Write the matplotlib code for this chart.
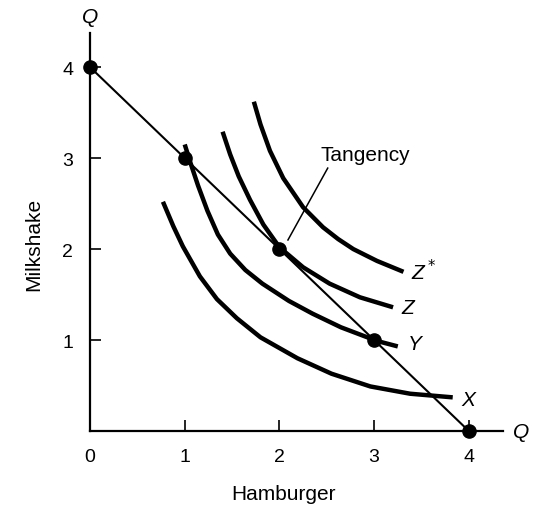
import numpy as np
import matplotlib
matplotlib.use("Agg")
import matplotlib.pyplot as plt

plt.rcParams['font.family'] = ['Liberation Sans', 'DejaVu Sans']

# budget line and the bundles marked on it
budget_x = [0, 1, 2, 3, 4]
budget_y = [4, 3, 2, 1, 0]

# indifference curves
curve_x_x = [0.77, 0.88, 0.98, 1.16, 1.34, 1.55, 1.80, 2.19, 2.55, 2.96, 3.38, 3.83]
curve_x_y = [2.52, 2.25, 2.03, 1.70, 1.45, 1.24, 1.03, 0.80, 0.63, 0.49, 0.41, 0.37]

curve_y_x = [1.00, 1.06, 1.14, 1.24, 1.35, 1.48, 1.64, 1.82, 2.10, 2.35, 2.65, 3.03, 3.25]
curve_y_y = [3.15, 2.95, 2.70, 2.42, 2.16, 1.95, 1.77, 1.62, 1.43, 1.29, 1.14, 0.99, 0.93]

curve_z_x = [1.40, 1.48, 1.57, 1.69, 1.83, 2.00, 2.25, 2.53, 2.85, 3.20]
curve_z_y = [3.29, 3.04, 2.80, 2.54, 2.27, 2.02, 1.80, 1.62, 1.47, 1.36]

curve_zs_x = [1.73, 1.80, 1.90, 2.04, 2.25, 2.46, 2.62, 2.78, 3.03, 3.31]
curve_zs_y = [3.62, 3.37, 3.08, 2.78, 2.46, 2.24, 2.11, 2.00, 1.87, 1.75]

curve_labels = ['X', 'Y', 'Z', 'Z$^*$']
label_pos = [(3.99, 0.35), (3.43, 0.96), (3.36, 1.36), (3.52, 1.76)]

ticks = [0, 1, 2, 3, 4]

fig = plt.figure(figsize=(5.33, 5.06), dpi=100)
ax = fig.add_axes([0.1689, 0.1462, 0.8173, 0.854])
ax.set_xlim(0, 4.6)
ax.set_ylim(0, 4.75)

for cx, cy in [(curve_x_x, curve_x_y), (curve_y_x, curve_y_y),
               (curve_z_x, curve_z_y), (curve_zs_x, curve_zs_y)]:
    ax.plot(cx, cy, color='black', lw=3.2, solid_capstyle='butt',
            solid_joinstyle='round')

ax.plot(budget_x, budget_y, color='black', lw=1.5)
ax.plot(budget_x, budget_y, 'o', color='black', ms=9.5, clip_on=False, zorder=5)

for lab, (lx, ly) in zip(curve_labels, label_pos):
    ax.text(lx, ly, lab, fontsize=15, style='italic', ha='center', va='center')

# tangency pointer
ax.plot([2.09, 2.51], [2.10, 2.89], color='black', lw=1.1)
ax.text(2.91, 3.04, 'Tangency', fontsize=15, ha='center', va='center')

# axis end labels
ax.text(0, 4.56, 'Q', fontsize=15, style='italic', ha='center', va='center')
ax.text(4.55, -0.01, 'Q', fontsize=15, style='italic', ha='center', va='center',
        clip_on=False)

for s in ['top', 'right']:
    ax.spines[s].set_visible(False)
ax.spines['left'].set_bounds(0, 4.38)
ax.spines['bottom'].set_bounds(0, 4.36)
ax.spines['left'].set_linewidth(1.6)
ax.spines['bottom'].set_linewidth(1.6)

ax.set_xticks(ticks)
ax.set_yticks(ticks[1:])
ax.tick_params(direction='in', length=8, width=1.2, labelsize=14)
ax.tick_params(axis='x', pad=12)
ax.tick_params(axis='y', pad=12)

ax.set_xlabel('Hamburger', fontsize=15)
ax.set_ylabel('Milkshake', fontsize=15)
ax.xaxis.set_label_coords(0.443, -0.123)
ax.yaxis.set_label_coords(-0.108, 0.433)

fig.savefig('out.png', dpi=100)
